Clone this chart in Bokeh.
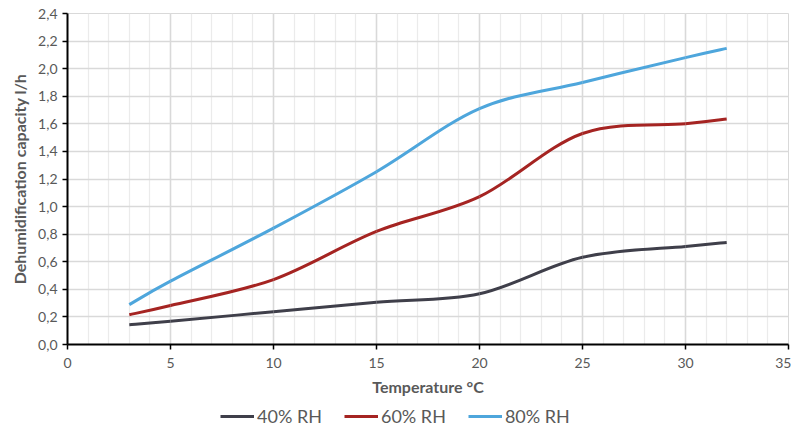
from bokeh.plotting import figure
from bokeh.layouts import column
from bokeh.models import (Range1d, FixedTicker, Legend, LegendItem, ColumnDataSource)
from bokeh.embed import file_html
from bokeh.resources import INLINE

# ---- data ----
temps = [3, 5, 10, 15, 20, 25, 30, 32]
rh40 = [0.144, 0.168, 0.238, 0.307, 0.368, 0.632, 0.711, 0.740]
rh60 = [0.216, 0.283, 0.471, 0.820, 1.072, 1.530, 1.600, 1.635]
rh80 = [0.289, 0.459, 0.844, 1.253, 1.710, 1.900, 2.080, 2.147]
series_names = ["40% RH", "60% RH", "80% RH"]
series_colors = ["#3f3f4a", "#a52422", "#4ea6dc"]

x_ticks = [0, 5, 10, 15, 20, 25, 30, 35]
x_minor = list(range(0, 36))
y_ticks = [0.0, 0.2, 0.4, 0.6, 0.8, 1.0, 1.2, 1.4, 1.6, 1.8, 2.0, 2.2, 2.4]
y_labels = ["0,0", "0,2", "0,4", "0,6", "0,8", "1,0", "1,2", "1,4", "1,6", "1,8", "2,0", "2,2", "2,4"]


def smooth_segments(xs, ys):
    """Excel-like smoothed line: cubic Bezier control points (Catmull-Rom)."""
    n = len(xs)
    out = dict(x0=[], y0=[], x1=[], y1=[], cx0=[], cy0=[], cx1=[], cy1=[])
    for i in range(n - 1):
        xp, yp = (xs[i - 1], ys[i - 1]) if i > 0 else (xs[i], ys[i])
        xn, yn = (xs[i + 2], ys[i + 2]) if i + 2 < n else (xs[i + 1], ys[i + 1])
        out["x0"].append(xs[i]); out["y0"].append(ys[i])
        out["x1"].append(xs[i + 1]); out["y1"].append(ys[i + 1])
        out["cx0"].append(xs[i] + (xs[i + 1] - xp) / 6.0)
        out["cy0"].append(ys[i] + (ys[i + 1] - yp) / 6.0)
        out["cx1"].append(xs[i + 1] - (xn - xs[i]) / 6.0)
        out["cy1"].append(ys[i + 1] - (yn - ys[i]) / 6.0)
    return ColumnDataSource(out)


FONT = "Lato"
GREY = "#595959"
W = 791

p = figure(width=W, height=398, output_backend="svg", toolbar_location=None,
           x_range=Range1d(0, 35), y_range=Range1d(0, 2.4),
           min_border_left=67, min_border_right=3, min_border_top=13, min_border_bottom=10)
p.background_fill_color = "white"
p.border_fill_color = "white"
p.outline_line_color = "#d9d9d9"
p.outline_line_width = 1

p.xaxis.ticker = FixedTicker(ticks=x_ticks, minor_ticks=x_minor)
p.yaxis.ticker = FixedTicker(ticks=y_ticks)
p.yaxis.major_label_overrides = {t: l for t, l in zip(y_ticks, y_labels)}

for ax in (p.xaxis, p.yaxis):
    ax.axis_line_color = "black"
    ax.axis_line_width = 2
    ax.major_tick_line_color = "black"
    ax.major_tick_line_width = 1.5
    ax.major_tick_out = 5
    ax.major_tick_in = 0
    ax.minor_tick_line_color = None
    ax.major_label_text_font = FONT
    ax.major_label_text_font_size = "14px"
    ax.major_label_text_color = GREY
    ax.axis_label_text_font = FONT
    ax.axis_label_text_font_size = "16px"
    ax.axis_label_text_font_style = "bold"
    ax.axis_label_text_color = GREY

p.xaxis.axis_label = "Temperature °C"
p.yaxis.axis_label = "Dehumidification capacity l/h"
p.xaxis.major_label_standoff = 8
p.yaxis.major_label_standoff = 5
p.xaxis.axis_label_standoff = 6
p.yaxis.axis_label_standoff = 6

p.xgrid.grid_line_color = "#d9d9d9"
p.xgrid.grid_line_width = 1.5
p.xgrid.minor_grid_line_color = "#ebebeb"
p.xgrid.minor_grid_line_width = 1.2
p.ygrid.grid_line_color = "#d9d9d9"
p.ygrid.grid_line_width = 1.5

series_vals = [rh40, rh60, rh80]
for vals, col in zip(series_vals, series_colors):
    src = smooth_segments(temps, vals)
    p.bezier(x0="x0", y0="y0", x1="x1", y1="y1", cx0="cx0", cy0="cy0",
             cx1="cx1", cy1="cy1", source=src, line_color=col, line_width=3)

# legend strip below the chart (its swatch renderers lie outside its view)
lg = figure(width=W, height=31, output_backend="svg", toolbar_location=None,
            x_range=Range1d(100, 101), y_range=Range1d(100, 101),
            min_border_left=0, min_border_right=0, min_border_top=0, min_border_bottom=0)
lg.axis.visible = False
lg.grid.visible = False
lg.outline_line_color = None
lg.background_fill_color = "white"
lg.border_fill_color = "white"
items = []
for name, vals, col in zip(series_names, series_vals, series_colors):
    r = lg.line(x=temps, y=vals, line_color=col, line_width=3)
    items.append(LegendItem(label=name, renderers=[r]))

legend = Legend(items=items, orientation="horizontal", location=(153, 2))
legend.label_text_font = FONT
legend.label_text_font_size = "18px"
legend.label_text_color = GREY
legend.glyph_width = 34
legend.label_standoff = 3
legend.spacing = 22
legend.border_line_color = None
legend.background_fill_alpha = 0
legend.margin = 0
legend.padding = 0
lg.add_layout(legend, "center")

layout = column(p, lg, spacing=0)
open("out.html", "w").write(file_html(layout, INLINE))
